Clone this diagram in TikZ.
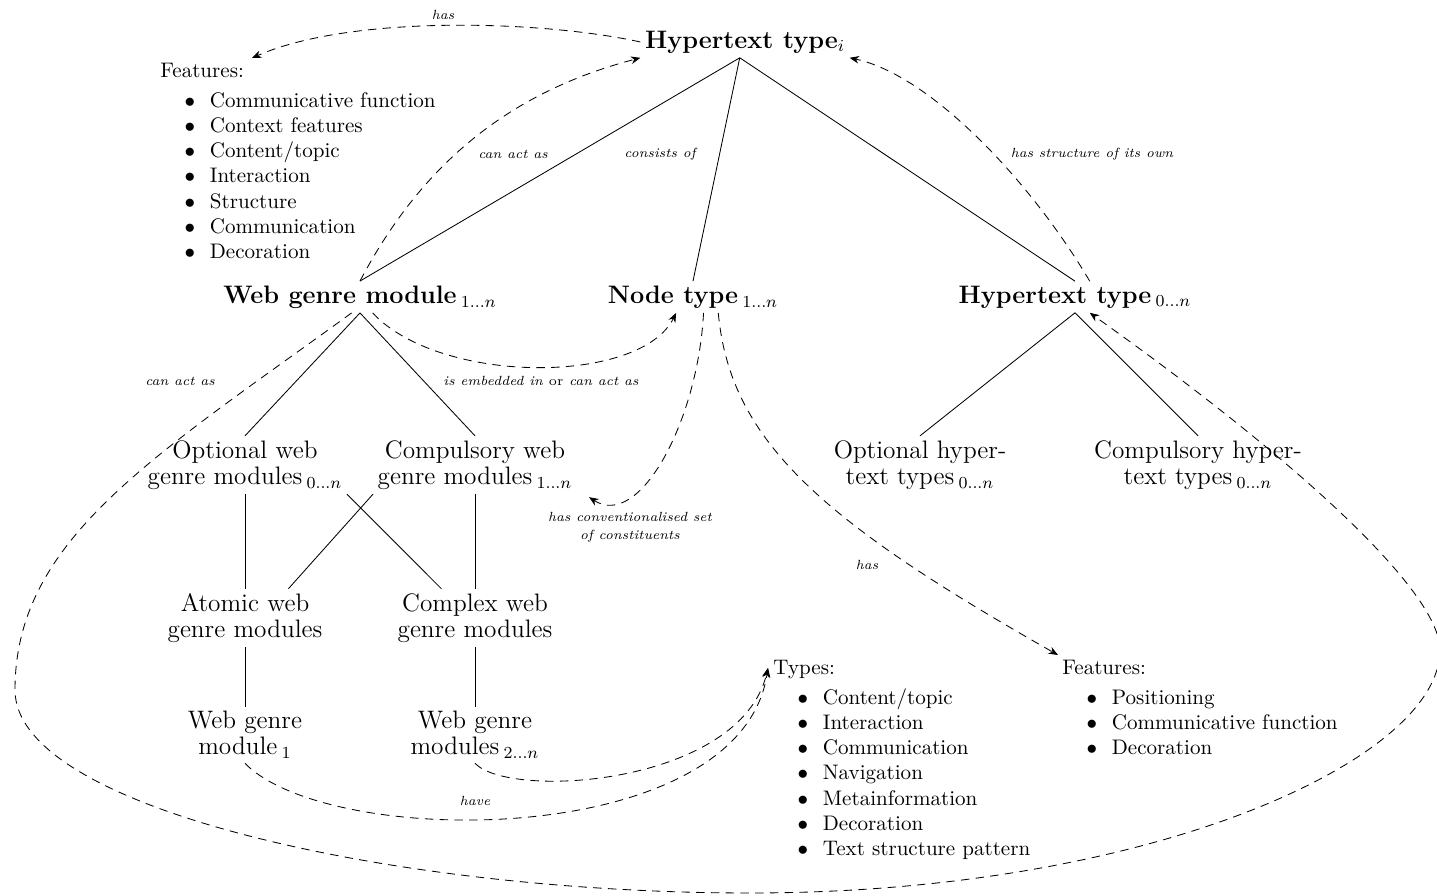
\documentclass[tikz,border=0pt]{standalone}
\usetikzlibrary{arrows.meta,positioning}

\newenvironment{featurelist}{\begin{list}{$\bullet$}{\setlength{\topsep}{2pt}\setlength{\partopsep}{0pt}\setlength{\itemsep}{0pt}\setlength{\parsep}{0pt}%
    \setlength{\leftmargin}{23.5pt}\setlength{\labelsep}{7pt}\setlength{\labelwidth}{16.5pt}}}{\end{list}}

\tikzset{%
  % Specifications for style of nodes:
         modbox/.style = {font=\fontsize{12}{12.4}\selectfont, align=center, inner sep=2pt},
        headbox/.style = {font=\fontsize{12}{12.4}\selectfont\bfseries, align=center, inner sep=2pt},
        listbox/.style = {text width=160pt, align=left, inner sep=0pt, anchor=north west},
            lbl/.style = {font=\fontsize{6.3}{8.5}\selectfont\itshape},
  % Specifications for style of connectors:
       relation/.style = {->, dash pattern=on 4pt off 3pt},
}

\begin{document}
\begin{tikzpicture}[x=0.016687cm, y=-0.016687cm, >={Stealth[length=4.5pt,width=3.6pt]}]
    \useasboundingbox (0,0) rectangle (1437,896);

    % Draw nodes
    \node (htI)   [headbox] at (745,42)   {Hypertext type$_i$};
    \node (wgm)   [headbox] at (360,297)  {Web genre module\,$_{1\ldots n}$};
    \node (nt)    [headbox] at (693,297)  {Node type\,$_{1\ldots n}$};
    \node (ht0)   [headbox] at (1075,297) {Hypertext type\,$_{0\ldots n}$};
    \coordinate (apex) at ([xshift=-2.5pt]htI.south);

    \node (opt)   [modbox] at (245,465)  {Optional web\\genre modules\,$_{0\ldots n}$};
    \node (comp)  [modbox] at (475,465)  {Compulsory web\\genre modules\,$_{1\ldots n}$};
    \node (atom)  [modbox] at (245,618)  {Atomic web\\genre modules};
    \node (cplx)  [modbox] at (475,618)  {Complex web\\genre modules};
    \node (wgmA)  [modbox] at (245,735)  {Web genre\\module\,$_1$};
    \node (wgmB)  [modbox] at (475,735)  {Web genre\\modules\,$_{2\ldots n}$};
    \node (opth)  [modbox] at (920,465)  {Optional hyper-\\text types\,$_{0\ldots n}$};
    \node (comph) [modbox] at (1198,465) {Compulsory hyper-\\text types\,$_{0\ldots n}$};

    \node (featI) [listbox] at (160,63) {Features:
      \begin{featurelist}
        \item Communicative function
        \item Context features
        \item Content/topic
        \item Interaction
        \item Structure
        \item Communication
        \item Decoration
      \end{featurelist}};
    \node (types) [listbox] at (773,660) {Types:
      \begin{featurelist}
        \item Content/topic
        \item Interaction
        \item Communication
        \item Navigation
        \item Metainformation
        \item Decoration
        \item Text structure pattern
      \end{featurelist}};
    \node (featN) [listbox] at (1062,660) {Features:
      \begin{featurelist}
        \item Positioning
        \item Communicative function
        \item Decoration
      \end{featurelist}};

    % Labels
    \node (hasI)    [lbl] at (443,15)   {has};
    \node (actI)    [lbl] at (513,154)  {can act as};
    \node (consist) [lbl] at (660,154)  {consists of};
    \node (struct)  [lbl] at (1092,154) {has structure of its own};
    \node (actII)   [lbl] at (180,381)  {can act as};
    \node (embed)   [lbl] at (541,381)  {is embedded in \textup{or} can act as};
    \node (conv)    [lbl, align=center] at (630,527) {has conventionalised set\\of constituents};
    \node (hasII)   [lbl] at (867,565)  {has};
    \node (have)    [lbl] at (475,801)  {have};

    % Draw lines
    \draw (apex) -- (wgm.north);
    \draw (apex) -- (nt.north);
    \draw (apex) -- (ht0.north);
    \draw (wgm.south) -- (opt.north);
    \draw (wgm.south) -- (comp.north);
    \draw (ht0.south) -- (opth.north);
    \draw (ht0.south) -- (comph.north);
    \draw (opt) -- (atom);
    \draw (comp) -- (cplx);
    \draw (opt.south east) -- (cplx.139);
    \draw (comp.south west) -- (atom.34);
    \draw (atom) -- (wgmA);
    \draw (cplx) -- (wgmB);

    % Draw arrows
    \draw[relation] (htI.west) .. controls (540,20) and (350,15) .. ([shift={(92,-5)}]featI.north west);
    \draw[relation] (wgm.north) .. controls (420,167) and (506,93) .. (htI.south west);
    \draw[relation] ([xshift=7pt]ht0.north) .. controls (1030,180) and (930,75) .. (htI.south east);
    \draw[relation] ([xshift=6pt]wgm.south) .. controls (440,385) and (640,385) .. ([xshift=-8pt]nt.south);
    \draw[relation] ([xshift=5pt]nt.south) .. controls (698,420) and (640,530) .. ([shift={(12,3)}]comp.south east);
    \draw[relation] ([xshift=12pt]nt.south) .. controls (730,440) and (820,520) .. ([shift={(-4,-5)}]featN.north west);
    \draw[relation] (wgmA.south) .. controls (330,850) and (740,850) .. ([shift={(-5,8)}]types.north west);
    \draw[relation] (wgmB.south) .. controls (510,800) and (740,785) .. ([shift={(-5,8)}]types.north west);
    \draw[relation] ([xshift=-4pt]wgm.south) .. controls (152,458) and (15,540) .. (15,690)
        .. controls (15,810) and (400,893) .. (750,893)
        .. controls (1150,893) and (1440,760) .. (1440,650)
        .. controls (1440,590) and (1290,455) .. ([xshift=7pt]ht0.south);

\end{tikzpicture}
\end{document}
